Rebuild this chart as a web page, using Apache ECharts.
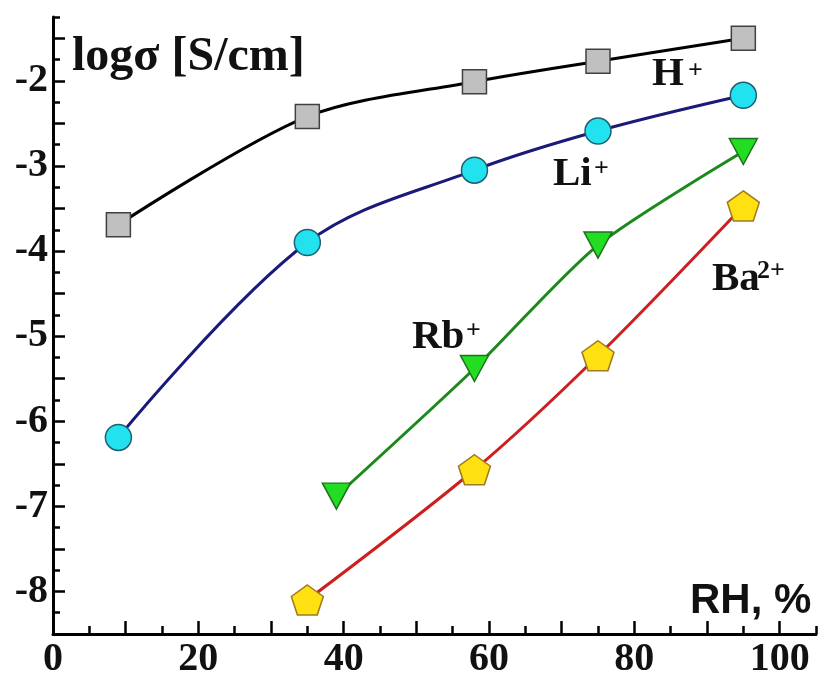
<!DOCTYPE html>
<html>
<head>
<meta charset="utf-8">
<script src="https://cdn.jsdelivr.net/npm/echarts@6/dist/echarts.min.js"></script>
<style>html,body{margin:0;padding:0;background:#fff;}#c{width:819px;height:680px;}</style>
</head>
<body>
<div id="c"></div>
<script>
// ---- data ----
var rh = [9, 35, 58, 75, 95];
var hPlus = [-3.69, -2.42, -2.01, -1.77, -1.50];
var liPlus = [-6.19, -3.90, -3.05, -2.59, -2.17];
var rbRH = [39, 58, 75, 95];
var rbPlus = [-6.88, -5.38, -3.93, -2.83];
var baRH = [35, 58, 75, 95];
var baPlus = [-8.10, -6.57, -5.23, -3.47];

var xLabels = [0, 20, 40, 60, 80, 100];
var xMajorTicks = [0, 10, 20, 30, 40, 50, 60, 70, 80, 90, 100];
var xMinorTicks = [5, 15, 25, 35, 45, 55, 65, 75, 85, 95, 105];
var yLabels = [-8, -7, -6, -5, -4, -3, -2];
var yMajorTicks = [-8.5, -8, -7.5, -7, -6.5, -6, -5.5, -5, -4.5, -4, -3.5, -3, -2.5, -2, -1.5];
var yMinorTicks = [-8.25, -7.75, -7.25, -6.75, -6.25, -5.75, -5.25, -4.75, -4.25, -3.75, -3.25, -2.75, -2.25, -1.75, -1.25];

function pairs(xs, ys) { return xs.map(function (x, i) { return [x, ys[i]]; }); }

var serif = "'Liberation Serif', 'Times New Roman', serif";
var sans = "'Liberation Sans', Arial, sans-serif";
var pentagon = 'path://M0,-10 L9.51,-3.09 L5.88,8.09 L-5.88,8.09 L-9.51,-3.09 Z';

var chart = echarts.init(document.getElementById('c'), null, { renderer: 'canvas' });

function txt(x, y, text, size, family) {
  return {
    type: 'text', left: x, top: y, z: 100,
    style: { text: text, font: 'bold ' + size + 'px ' + family, fill: '#111' }
  };
}

var option = {
  animation: false,
  backgroundColor: '#fff',
  grid: { left: 53, right: 3, top: 17, bottom: 39, containLabel: false },
  xAxis: [{
    type: 'value', min: 0, max: 105, interval: 10,
    axisLine: { show: true, lineStyle: { color: '#000', width: 3 } },
    axisTick: { show: true, inside: true, length: 13, lineStyle: { color: '#000', width: 2.5 }, customValues: xMajorTicks },
    axisLabel: { show: true, customValues: xLabels, margin: 6, color: '#111', fontFamily: serif, fontWeight: 'bold', fontSize: 40 },
    splitLine: { show: false }
  }, {
    type: 'value', position: 'bottom', min: 0, max: 105, interval: 5,
    axisLine: { show: false },
    axisTick: { show: true, inside: true, length: 8, lineStyle: { color: '#000', width: 2.5 }, customValues: xMinorTicks },
    axisLabel: { show: false },
    splitLine: { show: false }
  }],
  yAxis: [{
    type: 'value', min: -8.5, max: -1.25, interval: 0.5,
    axisLine: { show: true, lineStyle: { color: '#000', width: 3 } },
    axisTick: { show: true, inside: true, length: 12, lineStyle: { color: '#000', width: 2.5 }, customValues: yMajorTicks },
    axisLabel: { show: true, customValues: yLabels, margin: 5, color: '#111', fontFamily: serif, fontWeight: 'bold', fontSize: 40 },
    splitLine: { show: false }
  }, {
    type: 'value', position: 'left', min: -8.5, max: -1.25, interval: 0.25,
    axisLine: { show: false },
    axisTick: { show: true, inside: true, length: 7, lineStyle: { color: '#000', width: 2.5 }, customValues: yMinorTicks },
    axisLabel: { show: false },
    splitLine: { show: false }
  }],
  series: [{
    name: 'H+', type: 'line', smooth: 0.3, data: pairs(rh, hPlus),
    lineStyle: { color: '#000', width: 3 },
    symbol: 'rect', symbolSize: 24,
    itemStyle: { color: '#c0c0c0', borderColor: '#404040', borderWidth: 1.5 }
  }, {
    name: 'Li+', type: 'line', smooth: 0.35, data: pairs(rh, liPlus),
    lineStyle: { color: '#1a1a7a', width: 3 },
    symbol: 'circle', symbolSize: 26,
    itemStyle: { color: '#22e2f0', borderColor: '#1f5f70', borderWidth: 1.5 }
  }, {
    name: 'Rb+', type: 'line', smooth: 0.25, data: pairs(rbRH, rbPlus),
    lineStyle: { color: '#1a8a1a', width: 3 },
    symbol: 'triangle', symbolRotate: 180, symbolSize: [28, 26],
    itemStyle: { color: '#22dd22', borderColor: '#207020', borderWidth: 1.5 }
  }, {
    name: 'Ba2+', type: 'line', smooth: 0.3, data: pairs(baRH, baPlus),
    lineStyle: { color: '#cc2020', width: 3 },
    symbol: pentagon, symbolSize: [32, 30],
    itemStyle: { color: '#ffe010', borderColor: '#a07a20', borderWidth: 1.5 }
  }],
  graphic: [
    txt(72, 34, 'logσ [S/cm]', 48, serif),
    txt(652, 54, 'H', 41, serif),
    txt(688, 58, '+', 26, serif),
    txt(553, 154, 'Li', 41, serif),
    txt(594, 156, '+', 26, serif),
    txt(412, 317, 'Rb', 41, serif),
    txt(466, 318, '+', 26, serif),
    txt(712, 259, 'Ba', 41, serif),
    txt(757, 258, '2+', 26, serif),
    txt(690, 580, 'RH, %', 42, sans)
  ]
};
chart.setOption(option);
</script>
</body>
</html>
